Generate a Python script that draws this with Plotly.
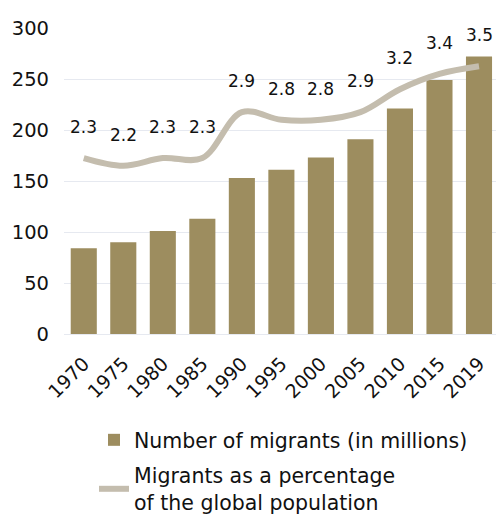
import plotly.graph_objects as go

years = ["1970", "1975", "1980", "1985", "1990", "1995", "2000", "2005", "2010", "2015", "2019"]
migrants = [84, 90, 101, 113, 153, 161, 173, 191, 221, 249, 272]
percent = [2.3, 2.2, 2.3, 2.3, 2.9, 2.8, 2.8, 2.9, 3.2, 3.4, 3.5]
y_ticks = [0, 50, 100, 150, 200, 250, 300]

FONT = "DejaVu Sans"
BAR_COLOR = "#9d8d5f"
LINE_COLOR = "#c4bdae"
GRID = "#e6e9f0"

fig = go.Figure()
fig.add_trace(go.Bar(
    x=years, y=migrants, name="Number of migrants (in millions)",
    marker=dict(color=BAR_COLOR, line=dict(width=0)),
    legendgroup="a",
))
fig.add_trace(go.Scatter(
    x=years, y=percent, yaxis="y2", mode="lines",
    line=dict(color=LINE_COLOR, width=6, shape="spline", smoothing=1),
    name="Migrants as a percentage<br>of the global population",
    legendgroup="b",
))

for i, p in enumerate(percent):
    fig.add_annotation(
        x=i, xref="x", y=p, yref="y2", text=f"{p:.1f}", showarrow=False,
        yshift=31, font=dict(family=FONT, size=17, color="#111111"),
    )

fig.update_layout(
    width=496, height=514,
    margin=dict(l=64, r=0, t=28, b=180, autoexpand=False),
    paper_bgcolor="white", plot_bgcolor="white",
    font=dict(family=FONT, color="#111111"),
    bargap=0.34,
    showlegend=True,
    legend=dict(
        x=(94 - 64) / 432, xanchor="left",
        yref="container", y=1 - 420 / 514, yanchor="top",
        traceorder="grouped", tracegroupgap=6,
        font=dict(family=FONT, size=20.5, color="#111111"),
        bgcolor="rgba(0,0,0,0)",
    ),
    xaxis=dict(
        type="category", range=[-0.5, 10.43], automargin=False,
        tickangle=-45, tickfont=dict(size=19, family=FONT),
        showgrid=False, showline=False, ticks="", ticklabelstandoff=14,
    ),
    yaxis=dict(
        range=[0, 300], tickvals=y_ticks, automargin=False,
        tickfont=dict(size=19.5, family=FONT),
        gridcolor=GRID, gridwidth=1,
        zeroline=True, zerolinecolor=GRID, zerolinewidth=1,
        showline=False, ticks="", ticklabelstandoff=14,
    ),
    yaxis2=dict(
        range=[0, 4], overlaying="y", visible=False, showgrid=False,
    ),
)

fig.write_html("out.html")
